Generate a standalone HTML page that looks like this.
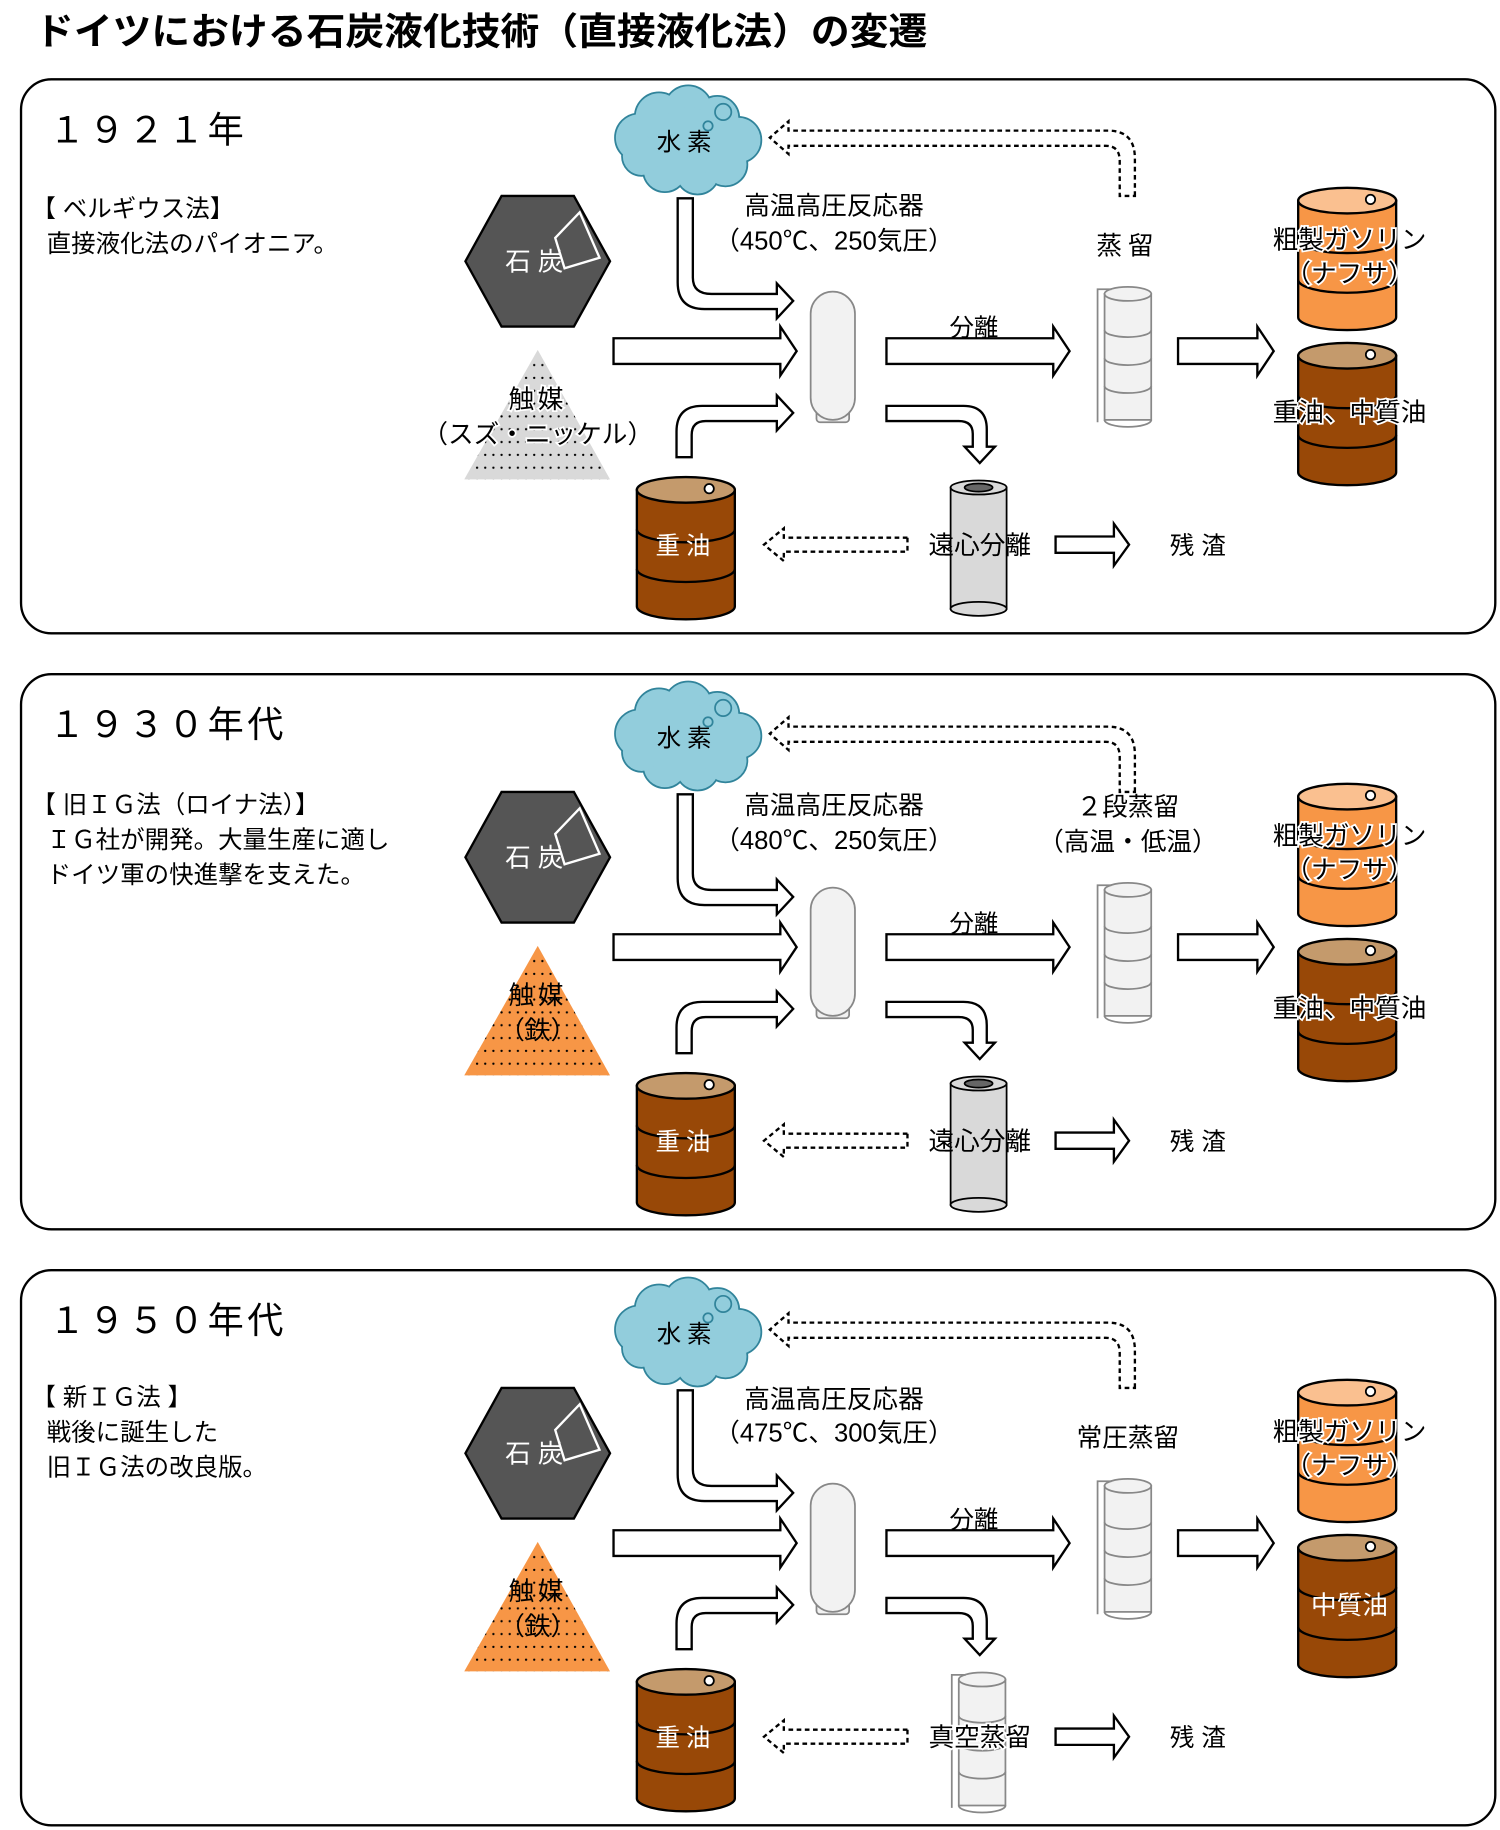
<!DOCTYPE html>
<html><head><meta charset="utf-8"><style>
html,body{margin:0;padding:0;background:#fff;}
svg{display:block;}
text{font-family:"Liberation Sans","Noto Sans CJK JP",sans-serif;}
</style></head><body>
<svg width="1500" height="1830" viewBox="0 0 1286 1569" xmlns="http://www.w3.org/2000/svg">
<defs>
<pattern id="dots" width="7" height="11" patternUnits="userSpaceOnUse">
<circle cx="3" cy="5" r="1" fill="#000"/>
</pattern>
<g id="drumBody">
<path d="M-42,0 L-42,100 A42,11 0 0 0 42,100 L42,0 Z" stroke="#000" stroke-width="2"/>
<path d="M-42,34 A42,11 0 0 0 42,34 M-42,68 A42,11 0 0 0 42,68" fill="none" stroke="#000" stroke-width="2"/>
</g>
<g id="drumO">
<use href="#drumBody" fill="#f79646"/>
<ellipse cx="0" cy="0" rx="42" ry="11" fill="#fac090" stroke="#000" stroke-width="2"/>
<ellipse cx="20" cy="-1" rx="4" ry="4" fill="#fff" stroke="#000" stroke-width="1.5"/>
</g>
<g id="drumB">
<use href="#drumBody" fill="#984807"/>
<ellipse cx="0" cy="0" rx="42" ry="11" fill="#c49a6c" stroke="#000" stroke-width="2"/>
<ellipse cx="20" cy="-1" rx="4" ry="4" fill="#fff" stroke="#000" stroke-width="1.5"/>
</g>
<g id="column">
<rect x="0" y="0" width="40" height="108" fill="#f2f2f2" stroke="#888" stroke-width="1.5"/>
<ellipse cx="20" cy="0" rx="20" ry="6" fill="#f2f2f2" stroke="#888" stroke-width="1.5"/>
<path d="M0,31 A20,6 0 0 0 40,31 M0,55 A20,6 0 0 0 40,55 M0,79 A20,6 0 0 0 40,79 M0,108 A20,6 0 0 0 40,108" fill="none" stroke="#888" stroke-width="1.5"/>
<polyline points="6,-4 -6,-4 -6,110" fill="none" stroke="#888" stroke-width="1.5"/>
</g>
<g id="common" stroke-linejoin="miter">
<polygon points="399,224 430,168 492,168 523,224 492,280 430,280" fill="#555" stroke="#000" stroke-width="2"/>
<polygon points="476,204 497,182 514,221 484,230" fill="none" stroke="#fff" stroke-width="2"/>
<text x="461" y="232" font-size="22" fill="#fff" text-anchor="middle" letter-spacing="6">石炭</text>
<g stroke="#31849b" stroke-width="3" fill="#92cddc">
<circle cx="548" cy="118" r="20"/><circle cx="565" cy="100" r="20"/><circle cx="590" cy="94" r="20"/><circle cx="615" cy="101" r="18"/><circle cx="633" cy="120" r="19"/><circle cx="622" cy="141" r="18"/><circle cx="598" cy="148" r="18"/><circle cx="570" cy="146" r="18"/><circle cx="550" cy="134" r="16"/>
</g>
<g fill="#92cddc">
<circle cx="548" cy="118" r="20"/><circle cx="565" cy="100" r="20"/><circle cx="590" cy="94" r="20"/><circle cx="615" cy="101" r="18"/><circle cx="633" cy="120" r="19"/><circle cx="622" cy="141" r="18"/><circle cx="598" cy="148" r="18"/><circle cx="570" cy="146" r="18"/><circle cx="550" cy="134" r="16"/><circle cx="590" cy="122" r="30"/>
</g>
<circle cx="620" cy="96" r="7" fill="none" stroke="#31849b" stroke-width="1.5"/>
<circle cx="607" cy="108" r="4" fill="none" stroke="#31849b" stroke-width="1.5"/>
<text x="589" y="129" font-size="21" text-anchor="middle" letter-spacing="5">水素</text>
<g fill="#fff" stroke="#000" stroke-width="2">
<path d="M581,170 L594,170 L594,238 Q594,252 610,252 L666,252 L666,243 L680,258 L666,273 L666,265 L604,265 Q581,265 581,242 Z"/>
<path d="M526,290 L669,290 L669,280 L683,301 L669,322 L669,312 L526,312 Z"/>
<path d="M580,392 L580,370 Q580,348 602,348 L666,348 L666,339 L680,354 L666,369 L666,361 L605,361 Q593,361 593,373 L593,392 Z"/>
<path d="M760,290 L903,290 L903,280 L917,301 L903,322 L903,312 L760,312 Z"/>
<path d="M760,348 L826,348 Q846,348 846,368 L846,383 L853,383 L840,397 L827,383 L834,383 L834,372 Q834,361 822,361 L760,361 Z"/>
<path d="M1010,290 L1078,290 L1078,280 L1092,301 L1078,322 L1078,312 L1010,312 Z"/>
<path d="M905,460 L955,460 L955,449 L968,467 L955,485 L955,474 L905,474 Z"/>
</g>
<g fill="#fff" stroke="#000" stroke-width="2" stroke-dasharray="4 3">
<path d="M778,461 L672,461 L672,453 L655,467 L672,481 L672,473 L778,473 Z"/>
</g>
<rect x="700" y="350" width="28" height="12" rx="3" fill="#f2f2f2" stroke="#888" stroke-width="1.5"/>
<rect x="695" y="250" width="38" height="110" rx="19" fill="#f2f2f2" stroke="#888" stroke-width="1.5"/>
<use href="#drumO" x="1155" y="172"/>
<use href="#drumB" x="1155" y="305"/>
<use href="#drumB" x="588" y="420"/>
<use href="#column" x="947" y="252"/>
<text x="1157" y="213" font-size="22" text-anchor="middle" stroke="#fff" stroke-width="3" paint-order="stroke">粗製ガソリン</text>
<text x="1157" y="242" font-size="22" text-anchor="middle" stroke="#fff" stroke-width="3" paint-order="stroke">（ナフサ）</text>
<text x="588" y="475" font-size="21" fill="#fff" text-anchor="middle" letter-spacing="5">重油</text>
<text x="835" y="288" font-size="21" text-anchor="middle">分離</text>
<text x="1030" y="475" font-size="21" text-anchor="middle" letter-spacing="6">残渣</text>
</g>
<g id="triGray">
<polygon points="461,300 398,411 523,411" fill="#d9d9d9"/>
<polygon points="461,300 398,411 523,411" fill="url(#dots)"/>
</g>
<g id="triOrange">
<polygon points="461,300 398,411 523,411" fill="#f79646"/>
<polygon points="461,300 398,411 523,411" fill="url(#dots)"/>
</g>
<g id="centrifuge">
<rect x="815" y="418" width="48" height="104" fill="#d9d9d9" stroke="#000" stroke-width="1.5"/>
<ellipse cx="839" cy="522" rx="24" ry="6" fill="#d9d9d9" stroke="#000" stroke-width="1.5"/>
<ellipse cx="839" cy="418" rx="24" ry="6" fill="#d9d9d9" stroke="#000" stroke-width="1.5"/>
<ellipse cx="839" cy="418" rx="12" ry="3.5" fill="#666" stroke="#000" stroke-width="1.5"/>
</g>
<path id="dret" d="M973,168 L973,136 Q973,112 950,112 L676,112 L676,104 L660,118 L676,132 L676,125 L948,125 Q960,125 960,138 L960,168 Z" fill="#fff" stroke="#000" stroke-width="2" stroke-dasharray="4 3"/>
</defs>

<text x="30" y="38" font-size="32" font-weight="bold" textLength="765" lengthAdjust="spacingAndGlyphs">ドイツにおける石炭液化技術（直接液化法）の変遷</text>

<!-- Panel 1 -->
<rect x="18" y="68" width="1264" height="475" rx="26" fill="none" stroke="#000" stroke-width="2"/>
<use href="#common"/>
<use href="#triGray"/>
<use href="#centrifuge"/>
<use href="#dret"/>
<text x="42" y="122" font-size="31" letter-spacing="3">１９２１年</text>
<text x="27" y="186" font-size="21">【 ベルギウス法】</text>
<text x="40" y="216" font-size="21">直接液化法のパイオニア。</text>
<text x="461" y="350" font-size="22" text-anchor="middle" letter-spacing="3" stroke="#fff" stroke-width="3" paint-order="stroke">触媒</text>
<text x="461" y="380" font-size="22" text-anchor="middle" stroke="#fff" stroke-width="3" paint-order="stroke">（スズ・ニッケル）</text>
<text x="715" y="184" font-size="22" text-anchor="middle">高温高圧反応器</text>
<text x="715" y="214" font-size="22" text-anchor="middle">（450℃、250気圧）</text>
<text x="967" y="218" font-size="22" text-anchor="middle" letter-spacing="5">蒸留</text>
<text x="1157" y="361" font-size="22" text-anchor="middle" stroke="#fff" stroke-width="3" paint-order="stroke">重油、中質油</text>
<text x="840" y="475" font-size="22" text-anchor="middle">遠心分離</text>

<!-- Panel 2 -->
<rect x="18" y="578" width="1264" height="476" rx="26" fill="none" stroke="#000" stroke-width="2"/>
<g transform="translate(0,511)">
<use href="#common"/>
<use href="#triOrange"/>
<use href="#centrifuge"/>
<use href="#dret"/>
<text x="42" y="121" font-size="31" letter-spacing="3">１９３０年代</text>
<text x="27" y="186" font-size="21">【 旧ＩＧ法（ロイナ法）】</text>
<text x="40" y="216" font-size="21">ＩＧ社が開発。大量生産に適し</text>
<text x="40" y="246" font-size="21">ドイツ軍の快進撃を支えた。</text>
<text x="461" y="350" font-size="22" text-anchor="middle" letter-spacing="3">触媒</text>
<text x="461" y="380" font-size="22" text-anchor="middle">（鉄）</text>
<text x="715" y="187" font-size="22" text-anchor="middle">高温高圧反応器</text>
<text x="715" y="217" font-size="22" text-anchor="middle">（480℃、250気圧）</text>
<text x="967" y="188" font-size="22" text-anchor="middle">２段蒸留</text>
<text x="967" y="218" font-size="22" text-anchor="middle">（高温・低温）</text>
<text x="1157" y="361" font-size="22" text-anchor="middle" stroke="#fff" stroke-width="3" paint-order="stroke">重油、中質油</text>
<text x="840" y="475" font-size="22" text-anchor="middle">遠心分離</text>
</g>

<!-- Panel 3 -->
<rect x="18" y="1089" width="1264" height="476" rx="26" fill="none" stroke="#000" stroke-width="2"/>
<g transform="translate(0,1022)">
<use href="#common"/>
<use href="#triOrange"/>
<use href="#column" x="822" y="418"/>
<use href="#dret"/>
<text x="42" y="121" font-size="31" letter-spacing="3">１９５０年代</text>
<text x="27" y="183" font-size="21">【 新ＩＧ法 】</text>
<text x="40" y="213" font-size="21">戦後に誕生した</text>
<text x="40" y="243" font-size="21">旧ＩＧ法の改良版。</text>
<text x="461" y="350" font-size="22" text-anchor="middle" letter-spacing="3">触媒</text>
<text x="461" y="380" font-size="22" text-anchor="middle">（鉄）</text>
<text x="715" y="185" font-size="22" text-anchor="middle">高温高圧反応器</text>
<text x="715" y="214" font-size="22" text-anchor="middle">（475℃、300気圧）</text>
<text x="967" y="218" font-size="22" text-anchor="middle">常圧蒸留</text>
<text x="1157" y="362" font-size="22" fill="#fff" text-anchor="middle">中質油</text>
<text x="840" y="475" font-size="22" text-anchor="middle" stroke="#fff" stroke-width="3" paint-order="stroke">真空蒸留</text>
</g>
</svg>
</body></html>
